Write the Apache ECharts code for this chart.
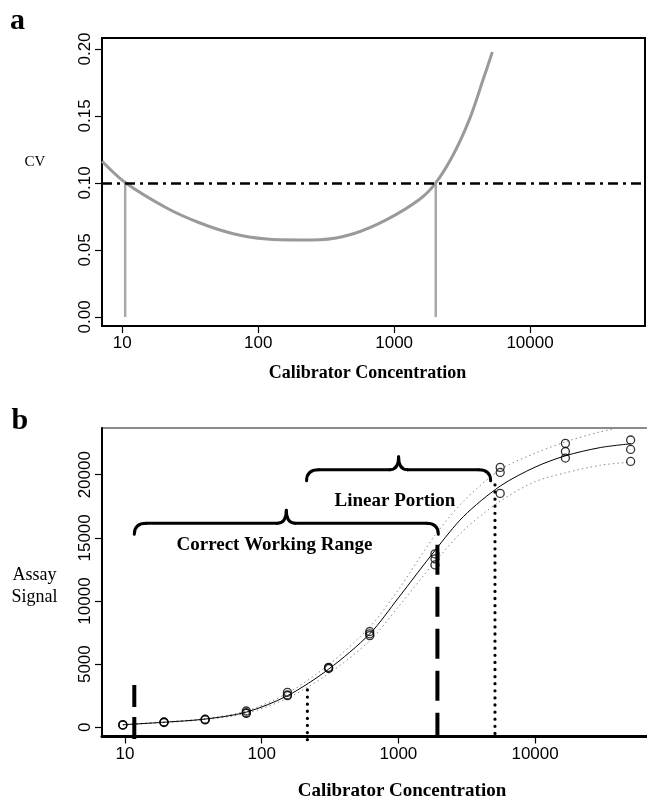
<!DOCTYPE html>
<html><head><meta charset="utf-8">
<script src="https://cdn.jsdelivr.net/npm/echarts@6/dist/echarts.min.js"></script>
<style>html,body{margin:0;padding:0;background:#fff}#c{width:647px;height:798px}</style>
</head><body><div id="c"></div>
<script>
// ---------- Panel a : CV profile ----------
const cvX = [7.1, 10.5, 21.2, 37.3, 65.6, 115.5, 203, 285, 501, 882, 1551, 2024, 2727, 3618, 4503, 5280];
const cvY = [0.1162, 0.1003, 0.0813, 0.0701, 0.0621, 0.0581, 0.0574, 0.0576, 0.0621, 0.0726, 0.0880, 0.1000, 0.1212, 0.1486, 0.1768, 0.1977];
const cvLimit = 0.10;
const cvCross = [10.5, 2024];
const xTicks = [10, 100, 1000, 10000];
const yTicksA = [0, 0.05, 0.10, 0.15, 0.20];

// ---------- Panel b : calibration curve ----------
const concX = [9.645, 19.29, 38.58, 77.16, 154.3, 308.6, 617.3, 1852, 5556, 16667, 50000];
const sigA = [170, 380, 580, 1100, 2500, 4650, 7260, 12860, 18520, 21320, 21050];
const sigB = [190, 400, 620, 1150, 2560, 4700, 7400, 13340, 20180, 21840, 22000];
const sigC = [210, 420, 640, 1290, 2770, 4750, 7580, 13730, 20580, 22480, 22750];
const fitX = [9.645, 19.29, 38.58, 77.16, 154.3, 308.6, 617.3, 1000, 1852, 3000, 5556, 10000, 16667, 30000, 50000];
const fitY = [200, 400, 650, 1200, 2500, 4600, 7400, 10250, 14000, 16700, 19100, 20600, 21500, 22150, 22450];
const upY  = [215, 425, 690, 1290, 2700, 4950, 7950, 10900, 15200, 17900, 20400, 21700, 22600, 23400, 23900];
const loY  = [185, 375, 610, 1110, 2300, 4250, 6850, 9550, 13100, 15600, 17900, 19450, 20150, 20750, 21000];
const yTicksB = [0, 5000, 10000, 15000, 20000];
// vertical markers: x, top value, bottom value
const vX = [11.7, 216, 1930, 5090];
const vTop = [3350, 2960, 14450, 19200];
const vBot = [-1250, -1250, -730, -730];
// braces: start x, end x, level
const braceX1 = [11.7, 213];
const braceX2 = [1960, 4730];
const braceY = [16150, 20400];
// annotation texts
const annText = ['Correct Working Range', 'Linear Portion'];
const annX = [124, 944];
const annY = [14430, 17900];

const SANS = '"Liberation Sans", Arial, sans-serif';
const SERIF = '"Liberation Serif", "Times New Roman", serif';
const fmtInt = v => String(Math.round(v));

function zip(a, b) { return a.map((v, i) => [v, b[i]]); }

const chart = echarts.init(document.getElementById('c'), null, {renderer: 'canvas'});

const baseX = (gi, min, max, gap, nameSize, pad) => ({
  gridIndex: gi, type: 'log', logBase: 10, min: min, max: max,
  axisLine: {show: gi === 1, onZero: false, lineStyle: {color: '#000', width: 3}},
  axisTick: {show: true, length: 7, customValues: xTicks, lineStyle: {color: '#000', width: 1.2}},
  axisLabel: {customValues: xTicks, margin: 9, fontSize: 17, color: '#000', fontFamily: SANS, formatter: fmtInt},
  splitLine: {show: false}, minorTick: {show: false}, minorSplitLine: {show: false},
  name: 'Calibrator Concentration', nameLocation: 'middle', nameGap: gap,
  nameTextStyle: {fontFamily: SERIF, fontWeight: 'bold', fontSize: nameSize, color: '#000', padding: pad}
});

const option = {
  animation: false,
  backgroundColor: '#fff',
  textStyle: {fontFamily: SANS},
  grid: [
    {left: 102, top: 38, width: 543, height: 288, show: true, borderColor: '#000', borderWidth: 2, backgroundColor: 'transparent', outerBoundsMode: 'none', containLabel: false},
    {left: 102, top: 428, width: 546, height: 308.5, show: true, borderColor: '#666', borderWidth: 1.5, backgroundColor: 'transparent', outerBoundsMode: 'none', containLabel: false}
  ],
  xAxis: [
    baseX(0, 7.09, 70100, 38, 18, [0, 12, 0, 0]),
    baseX(1, 6.79, 67000, 45, 19, [0, 0, 0, 54])
  ],
  yAxis: [
    {gridIndex: 0, type: 'value', min: -0.0068, max: 0.2082,
     axisLine: {show: false, onZero: false},
     axisTick: {show: true, length: 7, customValues: yTicksA, lineStyle: {color: '#000', width: 1.2}},
     axisLabel: {customValues: yTicksA, rotate: 90, margin: 8, fontSize: 17, color: '#000', fontFamily: SANS, formatter: v => v.toFixed(2)},
     splitLine: {show: false}},
    {gridIndex: 1, type: 'value', min: -730, max: 23700,
     axisLine: {show: true, onZero: false, lineStyle: {color: '#000', width: 2}},
     axisTick: {show: true, length: 7, customValues: yTicksB, lineStyle: {color: '#000', width: 1.2}},
     axisLabel: {customValues: yTicksB, rotate: 90, margin: 8, fontSize: 17, color: '#000', fontFamily: SANS, formatter: fmtInt},
     splitLine: {show: false}}
  ],
  graphic: [
    {type: 'text', x: 10, y: 21.6, style: {text: 'a', font: 'bold 30px ' + SERIF, fill: '#000', align: 'left', verticalAlign: 'middle'}},
    {type: 'text', x: 11.5, y: 421.5, style: {text: 'b', font: 'bold 30px ' + SERIF, fill: '#000', align: 'left', verticalAlign: 'middle'}},
    {type: 'text', x: 35, y: 162, style: {text: 'CV', font: '15px ' + SERIF, fill: '#000', align: 'center', verticalAlign: 'middle'}},
    {type: 'text', x: 34.5, y: 586.5, style: {text: 'Assay\nSignal', font: '18px ' + SERIF, lineHeight: 22, fill: '#000', align: 'center', verticalAlign: 'middle'}}
  ],
  series: []
};

// panel a series
option.series.push({
  type: 'line', xAxisIndex: 0, yAxisIndex: 0, data: zip(cvX, cvY), smooth: 0.3, symbol: 'none',
  lineStyle: {color: '#9a9a9a', width: 3}, z: 3,
  markLine: {silent: true, symbol: ['none', 'none'], label: {show: false},
    lineStyle: {color: '#000', width: 2.5, type: [10, 5, 3, 5]}, data: [{yAxis: cvLimit}]}
});
cvCross.forEach(x => option.series.push({
  type: 'line', xAxisIndex: 0, yAxisIndex: 0, data: [[x, 0], [x, cvLimit]], symbol: 'none',
  lineStyle: {color: '#a8a8a8', width: 2.5}, z: 2
}));

// panel b series
option.series.push({type: 'line', xAxisIndex: 1, yAxisIndex: 1, data: zip(fitX, upY), smooth: 0.3, symbol: 'none',
  lineStyle: {color: '#888', width: 1, type: [1.5, 3]}, z: 2});
option.series.push({type: 'line', xAxisIndex: 1, yAxisIndex: 1, data: zip(fitX, loY), smooth: 0.3, symbol: 'none',
  lineStyle: {color: '#888', width: 1, type: [1.5, 3]}, z: 2});
option.series.push({type: 'line', xAxisIndex: 1, yAxisIndex: 1, data: zip(fitX, fitY), smooth: 0.3, symbol: 'none',
  lineStyle: {color: '#000', width: 1}, z: 3});
[sigA, sigB, sigC].forEach(rep => option.series.push({
  type: 'scatter', xAxisIndex: 1, yAxisIndex: 1, data: zip(concX, rep), symbol: 'circle', symbolSize: 8,
  itemStyle: {color: 'rgba(0,0,0,0)', borderColor: '#000', borderWidth: 1.3}, z: 4
}));
const vStyles = [
  {type: [22, 10], width: 4, cap: 'butt'},
  {type: [0.1, 7], width: 3.2, cap: 'round'},
  {type: [30, 12], width: 4, cap: 'butt'},
  {type: [0.1, 7], width: 3.2, cap: 'round'}
];
vX.forEach((x, i) => option.series.push({
  type: 'line', xAxisIndex: 1, yAxisIndex: 1, data: [[x, vTop[i]], [x, vBot[i]]], symbol: 'none', clip: false,
  lineStyle: Object.assign({color: '#000'}, vStyles[i]), z: 5
}));
option.series.push({
  type: 'custom', xAxisIndex: 1, yAxisIndex: 1, coordinateSystem: 'cartesian2d',
  data: braceX1.map((v, i) => [v, braceX2[i], braceY[i]]),
  encode: {x: [0, 1], y: 2}, clip: false, z: 6,
  renderItem: function (params, api) {
    const p1 = api.coord([api.value(0), api.value(2)]);
    const p2 = api.coord([api.value(1), api.value(2)]);
    const y0 = p1[1], xa = p1[0], xb = p2[0], xm = (xa + xb) / 2;
    const hook = 11, hr = 12, tipH = 13, tipW = 9;
    const st = {stroke: '#000', lineWidth: 3, fill: 'none', lineCap: 'round'};
    return {type: 'group', children: [
      {type: 'bezierCurve', shape: {x1: xa, y1: y0 + hook, cpx1: xa, cpy1: y0, x2: xa + hr, y2: y0}, style: st},
      {type: 'line', shape: {x1: xa + hr, y1: y0, x2: xm - tipW, y2: y0}, style: st},
      {type: 'bezierCurve', shape: {x1: xm - tipW, y1: y0, cpx1: xm, cpy1: y0, x2: xm, y2: y0 - tipH}, style: st},
      {type: 'bezierCurve', shape: {x1: xm, y1: y0 - tipH, cpx1: xm, cpy1: y0, x2: xm + tipW, y2: y0}, style: st},
      {type: 'line', shape: {x1: xm + tipW, y1: y0, x2: xb - hr, y2: y0}, style: st},
      {type: 'bezierCurve', shape: {x1: xb - hr, y1: y0, cpx1: xb, cpy1: y0, x2: xb, y2: y0 + hook}, style: st}
    ]};
  }
});
option.series.push({
  type: 'custom', xAxisIndex: 1, yAxisIndex: 1, coordinateSystem: 'cartesian2d',
  data: annX.map((v, i) => [v, annY[i]]), encode: {x: 0, y: 1}, clip: false, z: 6,
  renderItem: function (params, api) {
    const p = api.coord([api.value(0), api.value(1)]);
    return {type: 'text', x: p[0], y: p[1], style: {text: annText[params.dataIndex], font: 'bold 19px ' + SERIF,
      fill: '#000', align: 'center', verticalAlign: 'middle'}};
  }
});

chart.setOption(option);
</script></body></html>
